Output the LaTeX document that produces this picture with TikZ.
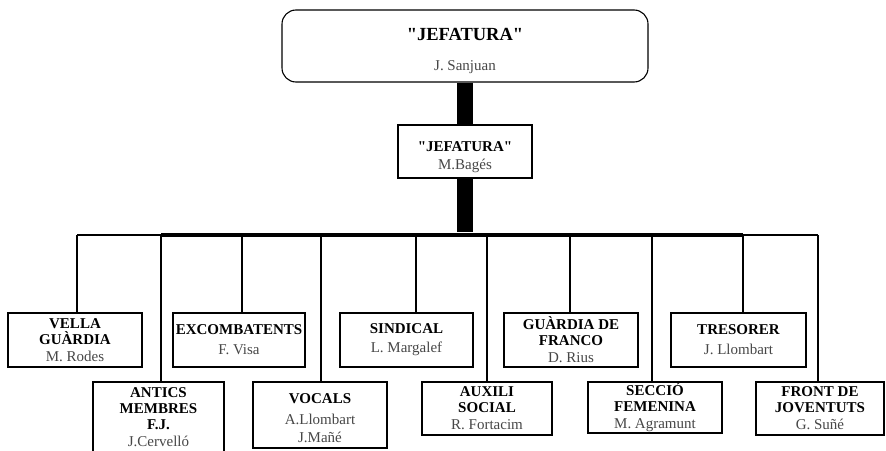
\documentclass[tikz,border=0pt]{standalone}
\usepackage{fontspec}
\setmainfont{Liberation Serif}[Ligatures=TeXOff]
\newcommand{\tit}{\fontsize{15}{16}\selectfont\bfseries}
\newcommand{\headtit}{\fontsize{18.5}{20}\selectfont\bfseries}
\newcommand{\nam}{\fontsize{15}{16}\selectfont\mdseries\color{black!72}}

\begin{document}
\begin{tikzpicture}[x=1pt, y=-1pt]
        % ================= styles =================
        \tikzset{
            % plain boxes of the chart
            unit/.style={draw=black, line width=1.1pt, fill=white, align=center, inner sep=0pt, minimum width=133pt, minimum height=54pt, font=\fontsize{15}{16}\selectfont},
            % rounded box at the top
            chief/.style={unit, rounded corners=14pt, minimum width=366pt, minimum height=72pt, font=\fontsize{15}{20}\selectfont},
            % thin drop lines
            thin_edge/.style={line width=1.1pt, black},
            % heavy trunk
            trunk/.style={line width=16pt, black},
            % horizontal rail
            rail/.style={line width=1.6pt, black},
            rail_heavy/.style={line width=3.6pt, black}
        }
        \useasboundingbox (0,0) rectangle (886,450);

        % ================= coordinates =================
        \coordinate (railL) at (77,235);
        \coordinate (railR) at (818,235);
        \coordinate (railA) at (161,235);
        \coordinate (railB) at (743,235);

        % ================= nodes =================
        % head
        \node[chief] (jefe) at (465,46) {\rule{0pt}{23pt}\headtit "JEFATURA"\\[10pt]\nam J. Sanjuan};
        \node[unit, minimum width=134pt, minimum height=53pt] (jefe2) at (465,151.5) {\rule{0pt}{21pt}\tit "JEFATURA"\\[2pt]\nam M.Bagés};

        % upper row
        \node[unit, minimum width=134pt] (vella) at (75,340) {\tit VELLA\\\tit GUÀRDIA\\[1pt]\nam M. Rodes};
        \node[unit, minimum width=132pt] (excomb) at (239,340) {\tit EXCOMBATENTS\\[4pt]\nam F. Visa};
        \node[unit] (sindical) at (406.5,340) {\tit SINDICAL\\[3pt]\nam L. Margalef};
        \node[unit, minimum width=134pt] (guardia) at (571,340) {\tit GUÀRDIA DE\\\tit FRANCO\\[1pt]\nam D. Rius};
        \node[unit, minimum width=135pt] (tresorer) at (738.5,340) {\tit TRESORER\\[4pt]\nam J. Llombart};

        % lower row
        \node[unit, minimum width=131pt, minimum height=70pt] (antics) at (158.5,417) {\tit ANTICS\\\tit MEMBRES\\\tit F.J.\\[1pt]\nam J.Cervelló};
        \node[unit, minimum width=134pt, minimum height=66pt] (vocals) at (320,415) {\rule{0pt}{17pt}\tit VOCALS\\[5pt]\nam A.Llombart\\[2pt]\nam J.Mañé};
        \node[unit, minimum width=130pt, minimum height=53pt] (auxili) at (487,408.5) {\tit AUXILI\\\tit SOCIAL\\[1pt]\nam R. Fortacim};
        \node[unit, minimum width=134pt, minimum height=51pt] (seccio) at (655,407.5) {\tit SECCIÓ\\\tit FEMENINA\\[1pt]\nam M. Agramunt};
        \node[unit, minimum width=128pt, minimum height=53pt] (front) at (820,408.5) {\tit FRONT DE\\\tit JOVENTUTS\\[1pt]\nam G. Suñé};

        % ================= edges =================
        % trunk
        \draw[trunk] (jefe.south) -- (jefe2.north);
        \draw[trunk] (jefe2.south) -- ([yshift=3]jefe2.south |- railL);

        % rail
        \draw[rail] (railL) -- (railR);
        \draw[rail_heavy] (railA) -- (railB);

        % drop lines
        \foreach \n/\d in {vella/2, antics/2.5, excomb/3, vocals/1, sindical/9.5, auxili/0, guardia/-1, seccio/-3, tresorer/4.5, front/-2}
            \draw[thin_edge] ([xshift=\d]\n.north) -- ([xshift=\d]\n.north |- railL);

    \end{tikzpicture}
\end{document}
